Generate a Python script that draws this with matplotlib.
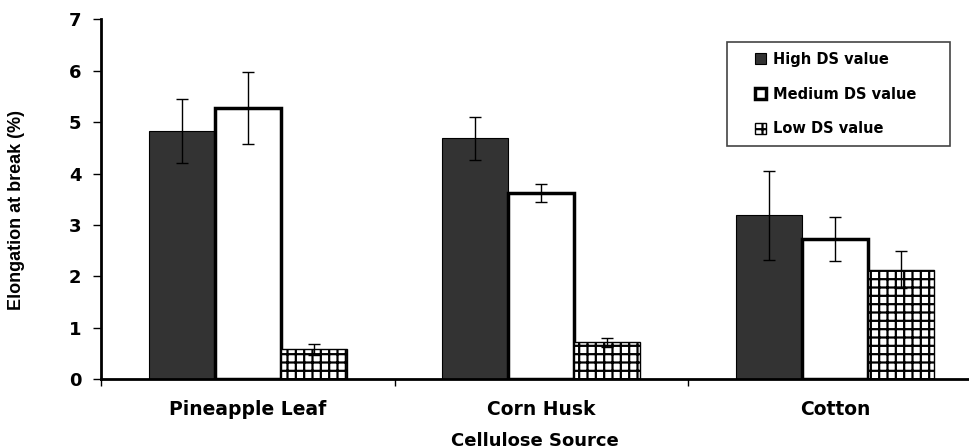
import numpy as np
import matplotlib
matplotlib.use("Agg")
import matplotlib.pyplot as plt
from matplotlib.ticker import FixedLocator
from matplotlib.patches import Rectangle

plt.rcParams['font.family'] = ['DejaVu Sans']
plt.rcParams['font.weight'] = 'bold'
plt.rcParams['hatch.linewidth'] = 1.6

# --- data ---
sources = ["Pineapple Leaf", "Corn Husk", "Cotton"]
series = ["High DS value", "Medium DS value", "Low DS value"]
high_vals = [4.83, 4.69, 3.19]
high_err = [0.63, 0.42, 0.87]
medium_vals = [5.28, 3.62, 2.73]
medium_err = [0.70, 0.17, 0.43]
low_vals = [0.58, 0.72, 2.13]
low_err = [0.10, 0.09, 0.36]

fig = plt.figure(figsize=(9.7, 4.48), dpi=100)
ax = fig.add_axes([0.1041, 0.1533, 0.894, 0.8035])

x = np.arange(len(sources)) + 0.5
w = 0.225
err_kw = dict(ecolor='black', elinewidth=1.0, capsize=4, capthick=1.0)

ax.bar(x - w, high_vals, w, yerr=high_err, color='#333333', edgecolor='black',
       linewidth=0.8, label=series[0], error_kw=err_kw, zorder=2)
ax.bar(x, medium_vals, w, yerr=medium_err, color='white', edgecolor='black',
       linewidth=2.5, label=series[1], error_kw=err_kw, zorder=2)
ax.bar(x + w, low_vals, w, yerr=low_err, color='white', edgecolor='black',
       linewidth=1.0, hatch='++', label=series[2], error_kw=err_kw, zorder=2)

ax.set_xlim(0, 2.954)
ax.set_ylim(0, 7)
ax.set_yticks(range(0, 8))
ax.tick_params(axis='y', direction='out', length=6, width=1, pad=8, labelsize=13)

ax.set_xticks(x)
ax.set_xticklabels(sources, fontsize=13.5, fontweight='bold')
ax.tick_params(axis='x', which='major', length=0, pad=15)
ax.xaxis.set_minor_locator(FixedLocator([0, 1, 2]))
ax.tick_params(axis='x', which='minor', direction='out', length=5, width=1)

for s in ['top', 'right']:
    ax.spines[s].set_visible(False)
for s in ['left', 'bottom']:
    ax.spines[s].set_linewidth(2)

ax.set_xlabel("Cellulose Source", fontsize=13, fontweight='bold', labelpad=9)
ax.set_ylabel("Elongation at break (%)", fontsize=13, fontweight='bold',
              family='Liberation Sans')
ax.yaxis.set_label_coords(-0.088, 0.47)

# legend box drawn separately so the entries can sit further in from the left edge
ax.add_patch(Rectangle((0.722, 0.648), 0.257, 0.289, transform=ax.transAxes,
                       facecolor='white', edgecolor='#444444', linewidth=1.2, zorder=3))
ax.legend(loc='upper left', bbox_to_anchor=(0.754, 0.91), fontsize=10.5,
          frameon=False, handlelength=0.75, handleheight=0.75, handletextpad=0.5,
          labelspacing=1.36, borderpad=0, borderaxespad=0)

fig.savefig("out.png", dpi=100)
